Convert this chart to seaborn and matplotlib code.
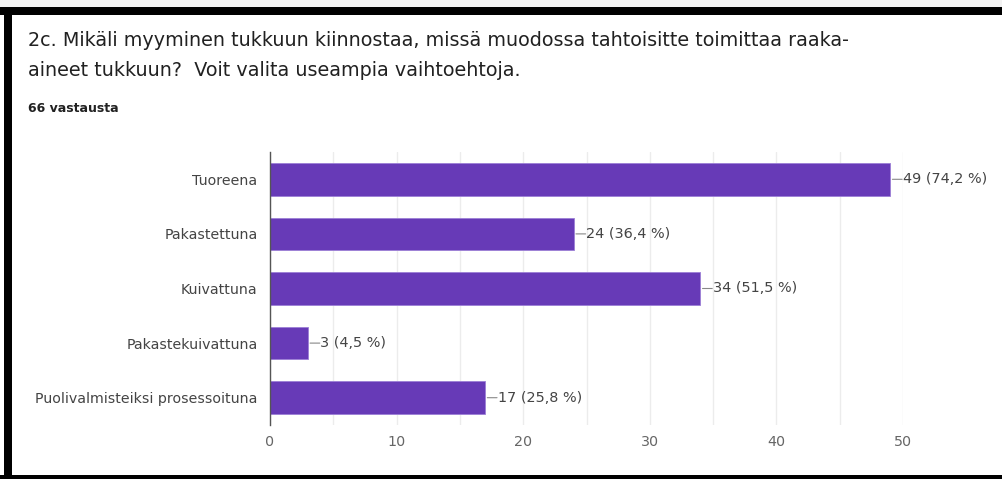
import matplotlib
matplotlib.use("Agg")
import matplotlib.pyplot as plt
import seaborn as sns
import pandas as pd
from matplotlib.patches import Rectangle

# Survey answers
categories = ["Tuoreena", "Pakastettuna", "Kuivattuna", "Pakastekuivattuna",
              "Puolivalmisteiksi prosessoituna"]
counts = [49, 24, 34, 3, 17]
percents = ["74,2", "36,4", "51,5", "4,5", "25,8"]
x_ticks = [0, 10, 20, 30, 40, 50]

title_lines = ["2c. Mikäli myyminen tukkuun kiinnostaa, missä muodossa tahtoisitte toimittaa raaka-",
               "aineet tukkuun?  Voit valita useampia vaihtoehtoja."]
subtitle = "66 vastausta"

sns.set_theme(style="white")
plt.rcParams["font.family"] = ["DejaVu Sans"]

W, H = 1002, 479
fig = plt.figure(figsize=(W / 100, H / 100), dpi=100)
fig.patch.set_facecolor("white")

df = pd.DataFrame({"kategoria": categories, "maara": counts})

ax = fig.add_axes([270 / W, 1 - 425 / H, (903 - 270) / W, (425 - 152) / H])
sns.barplot(data=df, y="kategoria", x="maara", orient="h", color="#673AB7",
            saturation=1, width=0.6, edgecolor="#9c7fd6", linewidth=0.6, ax=ax)

ax.set_xlim(0, 50)
ax.set_ylim(4.5, -0.5)
ax.set_xticks(x_ticks)
ax.set_xticks(range(5, 50, 10), minor=True)
ax.grid(axis="x", which="both", color="#ececec", linewidth=1)
ax.set_axisbelow(True)
for s in ["top", "right", "bottom"]:
    ax.spines[s].set_visible(False)
ax.spines["left"].set_color("#555555")
ax.spines["left"].set_linewidth(1)
ax.set_xlabel("")
ax.set_ylabel("")
ax.tick_params(axis="x", which="both", length=0, pad=7, labelsize=10.3, labelcolor="#666666")
ax.tick_params(axis="y", length=0, pad=9, labelsize=10.2, labelcolor="#444444")

# Value labels with a short leader line
for i, (c, p) in enumerate(zip(counts, percents)):
    ax.annotate("", xy=(c, i), xytext=(8.5, 0), textcoords="offset points",
                arrowprops=dict(arrowstyle="-", color="#888888", lw=0.8,
                                shrinkA=0, shrinkB=1.5))
    ax.annotate(f"{c} ({p} %)", xy=(c, i), xytext=(9, 0), textcoords="offset points",
                va="center", ha="left", fontsize=10.4, color="#444444")

# Heading
fig.text(28 / W, 1 - 40 / H, title_lines[0], fontsize=13.8, color="#212121",
         va="center", ha="left")
fig.text(28 / W, 1 - 71 / H, title_lines[1], fontsize=13.8, color="#212121",
         va="center", ha="left")
fig.text(28 / W, 1 - 109 / H, subtitle, fontsize=9, color="#212121",
         va="center", ha="left", fontweight="bold")

# Frame around the card
fig.patches.append(Rectangle((0, 1 - 7 / H), 1, 7 / H, transform=fig.transFigure,
                             facecolor="#f2f2f2", edgecolor="none"))
fig.patches.append(Rectangle((0, 1 - 15 / H), 1, 8 / H, transform=fig.transFigure,
                             facecolor="black", edgecolor="none"))
fig.patches.append(Rectangle((4 / W, 0), 8 / W, 1 - 7 / H, transform=fig.transFigure,
                             facecolor="black", edgecolor="none"))
fig.patches.append(Rectangle((0, 0), 1, 4 / H, transform=fig.transFigure,
                             facecolor="black", edgecolor="none"))

fig.savefig("out.png", dpi=100)
